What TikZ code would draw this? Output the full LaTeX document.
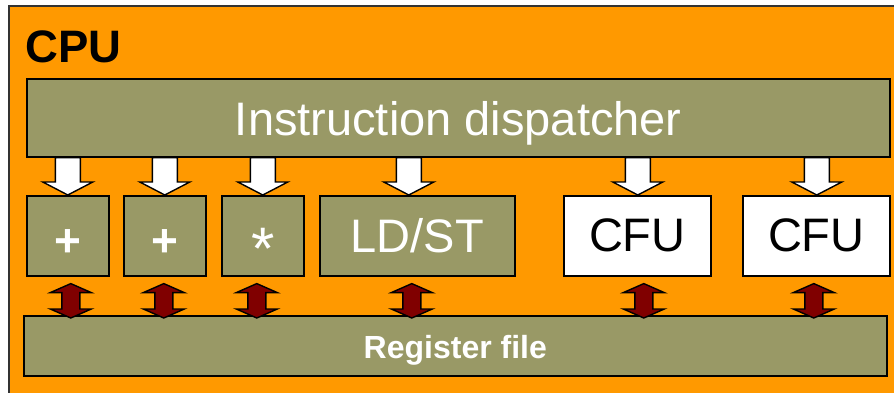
\documentclass[tikz,border=0pt]{standalone}
\usepackage{fontspec}
\setmainfont{Liberation Sans}
\usetikzlibrary{calc}
\definecolor{cpuorange}{HTML}{FF9900}
\definecolor{olive}{HTML}{999966}
\definecolor{darkred}{HTML}{800000}
\tikzset{
  unitbox/.style={draw=black, line width=1.6pt, fill=olive, text=white, inner sep=0pt, anchor=north west},
  cfubox/.style={unitbox, fill=white, text=black},
  bigtxt/.style={font=\fontsize{47}{50}\selectfont},
  whitearrow/.style={draw=black, fill=white, line width=1.4pt, line join=miter},
  redarrow/.style={draw=black, fill=darkred, line width=1.4pt, line join=miter},
}
% white block arrow: #1 x offset, #2 source node, #3 target node
\newcommand\wharrow[3]{%
  \draw[whitearrow] let \p1=(#2.south), \p2=($(#3.north)+(#1,0)$) in
    (\x2-12.5pt,\y1) -- (\x2+12.5pt,\y1) -- (\x2+12.5pt,\y2+13pt) -- (\x2+25pt,\y2+13pt)
    -- (\x2,\y2) -- (\x2-25pt,\y2+13pt) -- (\x2-12.5pt,\y2+13pt) -- cycle;}
% red double block arrow: #1 x offset, #2 upper node, #3 lower node
\newcommand\rdarrow[3]{%
  \draw[redarrow] let \p1=($(#2.south)+(#1,0)$), \p2=(#3.north) in
    (\x1,\y1-7pt) -- (\x1+20.5pt,\y1-16pt) -- (\x1+9pt,\y1-16pt) -- (\x1+9pt,\y2+6pt)
    -- (\x1+20.5pt,\y2+6pt) -- (\x1,\y2-3pt) -- (\x1-20.5pt,\y2+6pt) -- (\x1-9pt,\y2+6pt)
    -- (\x1-9pt,\y1-16pt) -- (\x1-20.5pt,\y1-16pt) -- cycle;}
\begin{document}
\begin{tikzpicture}[x=1pt, y=-1pt]
  \useasboundingbox (0,0) rectangle (894,393);
  \clip (0,0) rectangle (894,393);
  \fill[white] (0,0) rectangle (894,393);
  \draw[fill=cpuorange, draw=black!80, line width=1.5pt] (9,6) rectangle (910,410);
  \node[anchor=base west, inner sep=0pt, font=\bfseries\fontsize{45.5}{48}\selectfont] (cpu) at (25,63) {CPU};

  \node[unitbox, bigtxt, minimum width=863, minimum height=78, text height=36pt, text depth=0pt] (disp) at (26,78) {Instruction dispatcher};

  \node[unitbox, minimum width=82, minimum height=80, font=\bfseries\fontsize{46}{48}\selectfont, text height=41pt, text depth=0pt] (b1) at (26,195) {+};
  \node[unitbox, minimum width=82, minimum height=80, font=\bfseries\fontsize{46}{48}\selectfont, text height=41pt, text depth=0pt] (b2) at (123,195) {+};
  \node[unitbox, minimum width=82, minimum height=80, font=\fontsize{60}{62}\selectfont, text height=67pt, text depth=0pt] (b3) at (221,195) {*};
  \node[unitbox, bigtxt, minimum width=195, minimum height=80] (ldst) at (319,195) {LD/ST};
  \node[cfubox, bigtxt, minimum width=147, minimum height=80] (cfu1) at (563,195) {CFU};
  \node[cfubox, bigtxt, minimum width=147, minimum height=80] (cfu2) at (742,195) {CFU};

  \node[unitbox, minimum width=863, minimum height=60, font=\bfseries\fontsize{32}{34}\selectfont, text height=26pt, text depth=0pt] (reg) at (23,315) {Register file};

  \wharrow{0}{disp}{b1}
  \wharrow{0}{disp}{b2}
  \wharrow{0}{disp}{b3}
  \wharrow{-8.5}{disp}{ldst}
  \wharrow{0.5}{disp}{cfu1}
  \wharrow{0.5}{disp}{cfu2}

  \rdarrow{3}{b1}{reg}
  \rdarrow{-1}{b2}{reg}
  \rdarrow{-6}{b3}{reg}
  \rdarrow{-5.5}{ldst}{reg}
  \rdarrow{6.5}{cfu1}{reg}
  \rdarrow{-2.5}{cfu2}{reg}
\end{tikzpicture}
\end{document}
